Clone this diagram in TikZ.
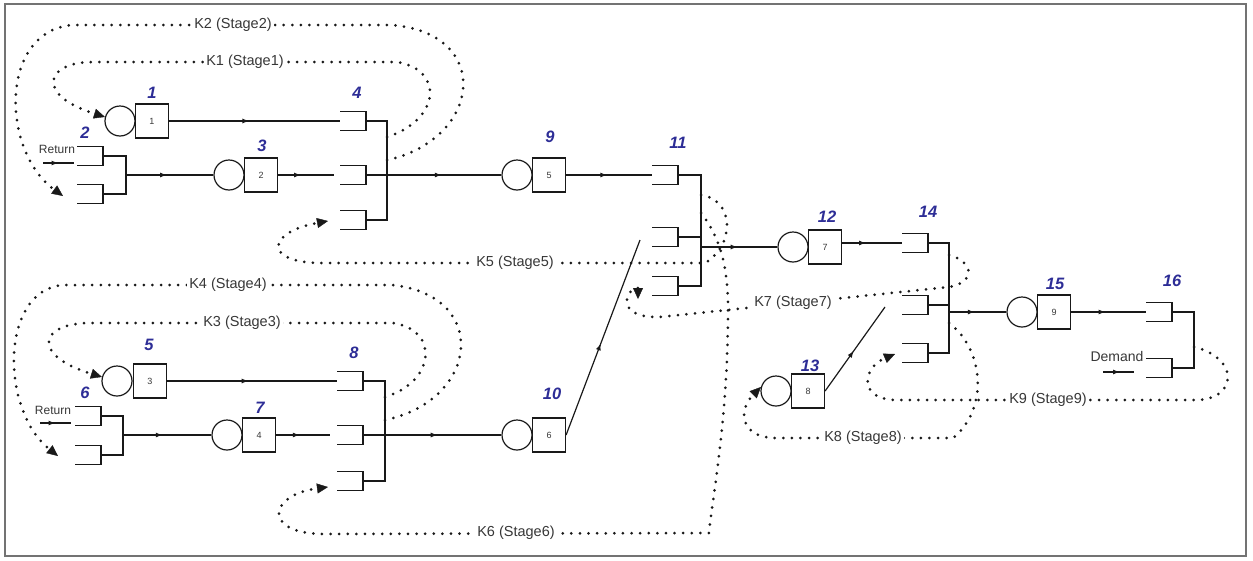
\documentclass[tikz,border=0pt]{standalone}
\usepackage{fontspec}
\setmainfont{Liberation Sans}
\usetikzlibrary{arrows.meta,decorations.markings,calc}
\definecolor{numblue}{RGB}{45,45,150}
\definecolor{ink}{RGB}{25,25,25}
\definecolor{txt}{RGB}{55,55,55}
\definecolor{framegray}{RGB}{115,115,115}

\begin{document}
\begin{tikzpicture}[x=1pt,y=-1pt,
  wire/.style={draw=ink,line width=1.2pt},
  midarrow/.style={postaction={decorate},
    decoration={markings,mark=at position #1 with {\arrow{Latex[length=7pt,width=5pt]}}}},
  kloop/.style={draw=ink,line width=3pt,dash pattern=on 0pt off 8.6pt,line cap=round,
    -{Triangle[length=11pt,width=10pt,line width=0.4pt]}},
  stn/.style={circle,draw=ink,line width=1.2pt,minimum size=30pt,inner sep=0pt},
  bx/.style={rectangle,draw=ink,line width=1.2pt,minimum width=33pt,minimum height=34pt,
    inner sep=0pt,font=\fontsize{9}{10}\selectfont,text=txt},
  num/.style={font=\fontsize{16.5}{18}\selectfont\bfseries\itshape,text=numblue,inner sep=0pt},
  klab/.style={font=\fontsize{14.5}{16}\selectfont,text=txt,fill=white,inner sep=2.5pt},
  small/.style={font=\fontsize{12}{14}\selectfont,text=txt,inner sep=0pt},
  brk/.pic={
    \draw[wire] (-26,-9.5) -- (0,-9.5) -- (0,9.5) -- (-26,9.5);
    \coordinate (-in) at (-26,0);
    \coordinate (-out) at (0,0);
  }]

\useasboundingbox (0,0) rectangle (1253,560);
\draw[framegray,line width=1.3pt] (5,4) rectangle (1246,556);

% ---- stations: circle (queue) + box (process) ----
\node[stn] (c1)  at (120,121) {};  \node[bx] (b1)  at (152,121) {1};
\node[stn] (c3)  at (229,175) {};  \node[bx] (b3)  at (261,175) {2};
\node[stn] (c5)  at (117,381) {};  \node[bx] (b5)  at (150,381) {3};
\node[stn] (c7)  at (227,435) {};  \node[bx] (b7)  at (259,435) {4};
\node[stn] (c9)  at (517,175) {};  \node[bx] (b9)  at (549,175) {5};
\node[stn] (c10) at (517,435) {};  \node[bx] (b10) at (549,435) {6};
\node[stn] (c12) at (793,247) {};  \node[bx] (b12) at (825,247) {7};
\node[stn] (c13) at (776,391) {};  \node[bx] (b13) at (808,391) {8};
\node[stn] (c15) at (1022,312) {}; \node[bx] (b15) at (1054,312) {9};

% ---- stage numbers ----
\node[num] (n1)  at (152,93)  {1};
\node[num] (n2)  at (85,133)  {2};
\node[num] (n3)  at (262,146) {3};
\node[num] (n4)  at (357,93)  {4};
\node[num] (n5)  at (149,345) {5};
\node[num] (n6)  at (85,393)  {6};
\node[num] (n7)  at (260,408) {7};
\node[num] (n8)  at (354,353) {8};
\node[num] (n9)  at (550,137) {9};
\node[num] (n10) at (552,394) {10};
\node[num] (n11) at (678,143) {11};
\node[num] (n12) at (827,217) {12};
\node[num] (n13) at (810,366) {13};
\node[num] (n14) at (928,212) {14};
\node[num] (n15) at (1055,284) {15};
\node[num] (n16) at (1172,281) {16};

% ---- merge brackets ----
\pic (b2a)  at (103,156)  {brk};
\pic (b2b)  at (103,194)  {brk};
\pic (b4a)  at (366,121)  {brk};
\pic (b4b)  at (366,175)  {brk};
\pic (b4c)  at (366,220)  {brk};
\pic (b6a)  at (101,416)  {brk};
\pic (b6b)  at (101,455)  {brk};
\pic (b8a)  at (363,381)  {brk};
\pic (b8b)  at (363,435)  {brk};
\pic (b8c)  at (363,481)  {brk};
\pic (b11a) at (678,175)  {brk};
\pic (b11b) at (678,237)  {brk};
\pic (b11c) at (678,286)  {brk};
\pic (b14a) at (928,243)  {brk};
\pic (b14b) at (928,305)  {brk};
\pic (b14c) at (928,353)  {brk};
\pic (b16a) at (1172,312) {brk};
\pic (b16b) at (1172,368) {brk};

% collector junctions
\coordinate (j2)  at (126,175);
\coordinate (j4)  at (387,175);
\coordinate (j6)  at (123,435);
\coordinate (j8)  at (385,435);
\coordinate (j11) at (701,247);
\coordinate (j14) at (949,312);
\coordinate (j16) at (1194,340);

\draw[wire] (b2a-out) -- (b2a-out -| j2) -- (b2b-out -| j2) -- (b2b-out);
\draw[wire] (b4a-out) -- (b4a-out -| j4) -- (b4c-out -| j4) -- (b4c-out);
\draw[wire] (b6a-out) -- (b6a-out -| j6) -- (b6b-out -| j6) -- (b6b-out);
\draw[wire] (b8a-out) -- (b8a-out -| j8) -- (b8c-out -| j8) -- (b8c-out);
\draw[wire] (b11a-out) -- (b11a-out -| j11) -- (b11c-out -| j11) -- (b11c-out);
\draw[wire] (b11b-out) -- (b11b-out -| j11);
\draw[wire] (b14a-out) -- (b14a-out -| j14) -- (b14c-out -| j14) -- (b14c-out);
\draw[wire] (b14b-out) -- (b14b-out -| j14);
\draw[wire] (b16a-out) -- (b16a-out -| j16) -- (b16b-out -| j16) -- (b16b-out);

% ---- material flow ----
\draw[wire] (c1) -- (b1);
\draw[wire] (c3) -- (b3);
\draw[wire] (c5) -- (b5);
\draw[wire] (c7) -- (b7);
\draw[wire] (c9) -- (b9);
\draw[wire] (c10) -- (b10);
\draw[wire] (c12) -- (b12);
\draw[wire] (c13) -- (b13);
\draw[wire] (c15) -- (b15);

\draw[wire,midarrow=0.47] (b1.east) -- (b4a-in);
\draw[wire,midarrow=0.47] (j2) -- (c3.west);
\draw[wire,midarrow=0.41] (b3.east) -- ($(b4b-in)+(-6,0)$);
\draw[wire,midarrow=0.56] (b4b-out) -- (c9.west);
\draw[wire,midarrow=0.48] (b9.east) -- (b11a-in);
\draw[wire,midarrow=0.48] (j11) -- (c12.west);
\draw[wire,midarrow=0.40] (b12.east |- b14a-in) -- (b14a-in);

\draw[wire,midarrow=0.48] (b5.east) -- (b8a-in);
\draw[wire,midarrow=0.45] (j6) -- (c7.west);
\draw[wire,midarrow=0.44] (b7.east) -- ($(b8b-in)+(-7,0)$);
\draw[wire,midarrow=0.54] (b8b-out) -- (c10.west);

\coordinate (d10) at (640,240);
\coordinate (d13) at (885,307);
\draw[wire,midarrow=0.47] (b10.east) -- (d10);
\draw[wire,midarrow=0.48] (b13.east) -- (d13);
\draw[wire,midarrow=0.45] (j14) -- (c15.west);
\draw[wire,midarrow=0.46] (b15.east) -- (b16a-in);

% external inputs
\node[small] (ret2) at (57,149) {Return};
\node[small] (ret6) at (53,410) {Return};
\node[small,font=\fontsize{14}{16}\selectfont] (dem) at (1117,356) {Demand};
\coordinate (r2a) at (43,163);  \coordinate (r2b) at (74,163);
\coordinate (r6a) at (40,423);  \coordinate (r6b) at (71,423);
\coordinate (dma) at (1103,372); \coordinate (dmb) at (1134,372);
\draw[wire,midarrow=0.5] (r2a) -- (r2b);
\draw[wire,midarrow=0.5] (r6a) -- (r6b);
\draw[wire,midarrow=0.55] (dma) -- (dmb);

% ---- kanban loops ----
\coordinate (k1s) at (387,137);
\coordinate (k2s) at (387,160);
\coordinate (k3s) at (385,397);
\coordinate (k4s) at (385,420);
\coordinate (k5s) at (701,195);
\coordinate (k6s) at (701,213);
\coordinate (k7s) at (949,255);
\coordinate (k8s) at (949,323);
\coordinate (k9s) at (1194,347);
\coordinate (k2e) at (63,196);
\coordinate (k4e) at (58,456);
\coordinate (k5e) at (328,221);
\coordinate (k6e) at (328,487);
\coordinate (k7e) at (638,299);
\coordinate (k9e) at (895,354);

\draw[kloop] (k1s) .. controls (440,120) and (445,70) .. (397,62)
  -- (93,62) .. controls (45,62) and (35,95) .. (c1.165);
\draw[kloop] (k2s) .. controls (480,140) and (495,35) .. (393,25)
  -- (73,25) .. controls (0,30) and (0,150) .. (k2e);
\draw[kloop] (k3s) .. controls (435,382) and (440,330) .. (393,323)
  -- (90,323) .. controls (40,323) and (30,355) .. (c5.165);
\draw[kloop] (k4s) .. controls (480,400) and (490,295) .. (392,285)
  -- (63,285) .. controls (0,290) and (0,410) .. (k4e);
\draw[kloop] (k5s) .. controls (735,200) and (735,245) .. (705,263)
  -- (320,263) .. controls (262,262) and (268,232) .. (k5e);
\draw[kloop] (k6s) .. controls (722,240) and (728,270) .. (728,310)
  .. controls (728,420) and (712,500) .. (709,533)
  -- (325,534) .. controls (262,534) and (268,495) .. (k6e);
\draw[kloop] (k7s) .. controls (975,262) and (975,283) .. (949,287)
  -- (660,317) .. controls (626,318) and (622,302) .. (631,291)
  -- (638,288) -- (k7e);
\draw[kloop] (k8s) .. controls (985,350) and (988,410) .. (953,438)
  -- (773,438) .. controls (740,436) and (738,410) .. (c13.165);
\draw[kloop] (k9s) .. controls (1240,358) and (1238,400) .. (1195,400)
  -- (897,400) .. controls (858,400) and (862,368) .. (k9e);

\node[klab] (k1) at (245,62)  {K1 (Stage1)};
\node[klab] (k2) at (233,25)  {K2 (Stage2)};
\node[klab] (k3) at (242,323) {K3 (Stage3)};
\node[klab] (k4) at (228,285) {K4 (Stage4)};
\node[klab] (k5) at (515,263) {K5 (Stage5)};
\node[klab] (k6) at (516,533) {K6 (Stage6)};
\node[klab] (k7) at (793,303) {K7 (Stage7)};
\node[klab] (k8) at (863,438) {K8 (Stage8)};
\node[klab] (k9) at (1048,400) {K9 (Stage9)};
\end{tikzpicture}
\end{document}
